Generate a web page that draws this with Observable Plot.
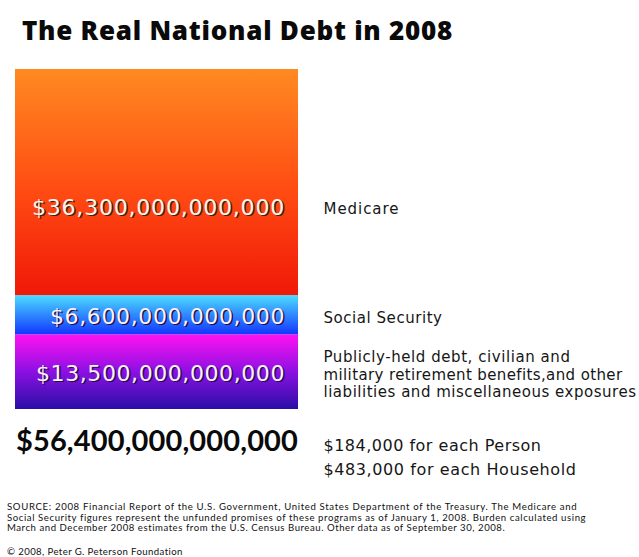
<!DOCTYPE html>
<html><head><meta charset="utf-8">
<script src="https://cdn.jsdelivr.net/npm/d3@7"></script>
<script src="https://cdn.jsdelivr.net/npm/@observablehq/plot@0.6"></script>
<style>
body{margin:0;background:#fff;}
#wrap{position:relative;width:639px;height:557px;overflow:hidden;background:#fff;font-family:Lato,"Open Sans",sans-serif;color:#111;}
#title{position:absolute;left:22px;top:13px;font-family:"Open Sans",sans-serif;font-weight:800;font-size:26px;line-height:34px;white-space:nowrap;color:#0a0a0a;}
#chart{position:absolute;left:0;top:60px;}
#source{position:absolute;left:7px;top:502px;font-family:Lato,sans-serif;font-size:9.6px;line-height:10.5px;color:#111;}
#source div{white-space:nowrap;height:10.5px;}
#copy{position:absolute;left:7px;top:546px;font-family:Lato,sans-serif;font-size:9.6px;line-height:11px;white-space:nowrap;color:#111;}
span.fit{display:inline-block;}
</style></head><body>
<div id="wrap">
<div id="title"></div>
<div id="chart"></div>
<div id="source"></div>
<div id="copy"></div>
</div>
<script>
// ---- data (trillions of dollars) ----
const categories = ["Medicare", "Social Security", "Other liabilities"];
const values = [36.3, 6.6, 13.5];
const amountLabels = ["$36,300,000,000,000", "$6,600,000,000,000", "$13,500,000,000,000"];
const descriptions = [
  "Medicare",
  "Social Security",
  "Publicly-held debt, civilian and\nmilitary retirement benefits,and other\nliabilities and miscellaneous exposures"
];
const totalValue = 56.4;
const totalLabel = "$56,400,000,000,000";
const perCapita = ["$184,000 for each Person", "$483,000 for each Household"];
const titleText = "The Real National Debt in 2008";
const sourceLines = [
  "SOURCE: 2008 Financial Report of the U.S. Government, United States Department of the Treasury.  The Medicare and",
  "Social Security figures represent the unfunded promises of these programs as of January 1, 2008. Burden calculated using",
  "March and December 2008 estimates from the U.S. Census Bureau.  Other data as of September 30, 2008."
];
const copyText = "\u00A9 2008, Peter G. Peterson Foundation";
const gradients = [
  [["0%", "#ff8a22"], ["55%", "#ff4a12"], ["100%", "#f01808"]],
  [["0%", "#4cdcff"], ["100%", "#1236ff"]],
  [["0%", "#ff12f2"], ["50%", "#8c10e2"], ["100%", "#2a0ea6"]]
];

const innerWidths = [253, 235, 249];
const descLineWidths = [[76], [119], [247, 299, 313]];
const perCapitaWidths = [218, 253];
const totalWidth = 282;
const titleWidth = 431;
const sourceWidths = [571, 579, 499];
const copyWidth = 176;

function fitHtml(parent, text, target) {
  const s = document.createElement("span");
  s.className = "fit"; s.textContent = text;
  parent.appendChild(s);
  const w = s.getBoundingClientRect().width;
  s.style.letterSpacing = ((target - w) / text.length) + "px";
  return s;
}
fitHtml(document.getElementById("title"), titleText, titleWidth);
sourceLines.forEach((t, k) => {
  const d = document.createElement("div");
  document.getElementById("source").appendChild(d);
  fitHtml(d, t, sourceWidths[k]);
});
fitHtml(document.getElementById("copy"), copyText, copyWidth);

// stack from bottom: last category at the bottom
const P = 1.06;
const rows = [];
let acc = 0;
for (let i = categories.length - 1; i >= 0; --i) {
  const lo = acc, hi = acc + values[i];
  acc = hi;
  rows.push({i, name: categories[i], lo, hi,
    mid: Math.pow((Math.pow(lo, P) + Math.pow(hi, P)) / 2, 1 / P),
    amount: amountLabels[i], desc: descriptions[i]});
}
const med = rows.filter(d => d.i === 0);
const others = rows.filter(d => d.i !== 0);

const inner = {x: 1, text: "amount", textAnchor: "end", fontSize: 22, fontFamily: "DejaVu Sans"};
const right = {x: 1, text: "desc", textAnchor: "start", dx: 25, fontSize: 15, fontFamily: "DejaVu Sans", fill: "#161616", lineHeight: 1.15};

const plot = Plot.plot({
  width: 639, height: 420,
  marginLeft: 15, marginRight: 341, marginTop: 9, marginBottom: 71,
  x: {domain: [0, 1], axis: null},
  y: {type: "pow", exponent: P, domain: [0, totalValue], axis: null},
  color: {type: "identity"},
  style: {background: "transparent", overflow: "visible"},
  marks: [
    Plot.rectY(rows, {x1: 0, x2: 1, y1: "lo", y2: "hi", fill: d => `url(#grad${d.i})`}),
    // shadowed amount labels inside the bar
    Plot.text(med, {...inner, y: "mid", dx: -12, dy: 26.5, fill: "#3a2418"}),
    Plot.text(med, {...inner, y: "mid", dx: -13.5, dy: 25, fill: "#fff4ea"}),
    Plot.text(others, {...inner, y: "mid", dx: -12, dy: 3, fill: "#241040"}),
    Plot.text(others, {...inner, y: "mid", dx: -13.5, dy: 1.5, fill: "#fbf0ff"}),
    // descriptions to the right
    Plot.text(med, {...right, y: "mid", dy: 26}),
    Plot.text(others, {...right, y: "mid", dy: 2}),
    // totals
    Plot.text([totalLabel], {x: 0.5, y: 0, text: d => d, dy: 32, fontSize: 29, fontWeight: 700, fontFamily: "Lato", fill: "#0a0a0a"}),
    Plot.text([perCapita.join("\n")], {x: 1, y: 0, text: d => d, dx: 25, dy: 46, textAnchor: "start", fontSize: 16, fontFamily: "DejaVu Sans", fill: "#161616", lineHeight: 1.45})
  ]
});

const defs = d3.select(plot).insert("defs", ":first-child");
gradients.forEach((stops, i) => {
  const g = defs.append("linearGradient").attr("id", `grad${i}`)
    .attr("x1", 0).attr("y1", 0).attr("x2", 0).attr("y2", 1);
  stops.forEach(([o, c]) => g.append("stop").attr("offset", o).attr("stop-color", c));
});
document.getElementById("chart").appendChild(plot);

// fit text widths to the reference
function fitSvg(el, target) {
  const w = el.getComputedTextLength();
  const n = el.textContent.length;
  el.style.letterSpacing = ((target - w) / n) + "px";
}
const groups = d3.select(plot).selectAll('g[aria-label="text"]').nodes();
const widthFor = new Map();
amountLabels.forEach((t, k) => widthFor.set(t, innerWidths[k]));
descriptions.forEach((t, k) => t.split("\n").forEach((line, j) => widthFor.set(line, descLineWidths[k][j])));
perCapita.forEach((t, k) => widthFor.set(t, perCapitaWidths[k]));
widthFor.set(totalLabel, totalWidth);
groups.forEach(g => {
  g.querySelectorAll("text").forEach(t => {
    const spans = t.querySelectorAll("tspan");
    if (spans.length) spans.forEach(s => { if (widthFor.has(s.textContent)) fitSvg(s, widthFor.get(s.textContent)); });
    else if (widthFor.has(t.textContent)) fitSvg(t, widthFor.get(t.textContent));
  });
});
</script>
</body></html>
